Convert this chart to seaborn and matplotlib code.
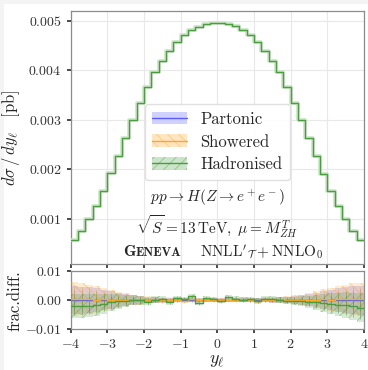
import numpy as np
import pandas as pd
import seaborn as sns
import matplotlib
matplotlib.use("Agg")
import matplotlib.pyplot as plt
import matplotlib.patheffects as pe
from matplotlib.patches import Patch, Rectangle
from matplotlib.lines import Line2D
from matplotlib.transforms import offset_copy

# ---------------- data ----------------
bin_edges = np.round(np.arange(-4.0, 4.0001, 0.2), 2)
xticks = [-4, -3, -2, -1, 0, 1, 2, 3, 4]
main_yticks = [0.001, 0.002, 0.003, 0.004, 0.005]
ratio_yticks = [-0.01, 0.0, 0.01]
ratio_yticklabels = [r"$-0.01$", r"$0.00$", r"$0.01$"]

partonic = [0.000562, 0.000758, 0.000987, 0.001249, 0.001559, 0.001916, 0.002266, 0.002636,
            0.002993, 0.003343, 0.003667, 0.003956, 0.004192, 0.004394, 0.004576, 0.004717,
            0.004811, 0.004886, 0.004933, 0.004946,
            0.004946, 0.004933, 0.004886, 0.004811, 0.004717, 0.004576, 0.004394, 0.004192,
            0.003956, 0.003667, 0.003343, 0.002993, 0.002636, 0.002266, 0.001913, 0.001559,
            0.001249, 0.000987, 0.000758, 0.000562]

# fractional differences w.r.t. partonic
frac_partonic = [0.0] * 40
frac_showered = [0.0004, 0.0003, 0.0003, 0.0002, 0.0003, 0.0002, 0.0001, 0.0002, 0.0001, 0.0000,
                 0.0002, 0.0001, -0.0001, 0.0002, 0.0001, -0.0002, 0.0003, 0.0001, 0.0002, -0.0001,
                 0.0001, 0.0002, -0.0001, 0.0002, 0.0001, -0.0002, 0.0001, 0.0000, 0.0001, 0.0002,
                 0.0001, 0.0000, 0.0001, 0.0002, 0.0003, 0.0002, 0.0004, 0.0003, 0.0004, 0.0003]
frac_hadronised = [-0.0020, -0.0020, -0.0019, -0.0017, -0.0012, -0.0008, -0.0004, -0.0002, 0.0001, -0.0001,
                   -0.0006, 0.0002, 0.0003, -0.0006, 0.0006, 0.0004, 0.0013, -0.0009, 0.0008, 0.0003,
                   -0.0004, 0.0012, 0.0005, 0.0002, 0.0004, -0.0003, 0.0005, 0.0003, 0.0001, -0.0002,
                   -0.0003, -0.0004, -0.0006, -0.0008, -0.0011, -0.0013, -0.0015, -0.0017, -0.0021, -0.0026]

unc_partonic = [0.0048, 0.0046, 0.0044, 0.0040, 0.0034, 0.0030, 0.0024, 0.0020, 0.0016, 0.0013,
                0.0011, 0.0010, 0.0009, 0.0008, 0.0008, 0.0007, 0.0007, 0.0006, 0.0006, 0.0006,
                0.0006, 0.0006, 0.0006, 0.0007, 0.0007, 0.0008, 0.0008, 0.0009, 0.0010, 0.0011,
                0.0013, 0.0016, 0.0020, 0.0025, 0.0030, 0.0035, 0.0040, 0.0044, 0.0047, 0.0050]
unc_showered = [0.0058, 0.0055, 0.0050, 0.0046, 0.0040, 0.0034, 0.0028, 0.0022, 0.0018, 0.0015,
                0.0012, 0.0011, 0.0010, 0.0009, 0.0009, 0.0008, 0.0008, 0.0007, 0.0007, 0.0007,
                0.0007, 0.0007, 0.0007, 0.0008, 0.0008, 0.0009, 0.0009, 0.0010, 0.0011, 0.0012,
                0.0015, 0.0018, 0.0022, 0.0028, 0.0034, 0.0040, 0.0046, 0.0050, 0.0054, 0.0057]
unc_hadronised = [0.0042, 0.0041, 0.0040, 0.0038, 0.0034, 0.0030, 0.0025, 0.0021, 0.0017, 0.0014,
                  0.0012, 0.0011, 0.0010, 0.0009, 0.0009, 0.0008, 0.0008, 0.0008, 0.0007, 0.0007,
                  0.0007, 0.0007, 0.0008, 0.0008, 0.0008, 0.0009, 0.0009, 0.0010, 0.0011, 0.0012,
                  0.0014, 0.0017, 0.0021, 0.0026, 0.0031, 0.0036, 0.0040, 0.0044, 0.0047, 0.0050]

series_names = ["Partonic", "Showered", "Hadronised"]

# ---------------- style ----------------
sns.set_theme(style="whitegrid")
plt.rcParams.update({
    "font.family": ["serif"],
    "font.serif": ["cmr10", "DejaVu Serif"],
    "mathtext.fontset": "cm",
    "axes.formatter.use_mathtext": True,
    "axes.unicode_minus": True,
    "axes.edgecolor": "#8c8c8c",
    "axes.linewidth": 0.9,
    "grid.color": "#e8e8e8",
    "grid.linewidth": 0.8,
    "xtick.color": "#333333",
    "ytick.color": "#333333",
    "xtick.major.size": 3,
    "ytick.major.size": 3,
    "xtick.bottom": True,
    "ytick.left": True,
    "xtick.labelsize": 10,
    "ytick.labelsize": 10,
    "hatch.linewidth": 0.7,
})

colors = {"Partonic": "#5a5aff", "Showered": "#ffa726", "Hadronised": "#4a9e40"}
hatches = {"Partonic": None, "Showered": "\\\\\\", "Hadronised": "///"}
band_alpha = {"Partonic": 0.25, "Showered": 0.22, "Hadronised": 0.22}

fig = plt.figure(figsize=(3.68, 3.70), dpi=100)
fig.patch.set_facecolor("#f4f4f4")
fig.patches.append(Rectangle((4 / 368, 0), 1, 1 - 4 / 370, transform=fig.transFigure,
                             facecolor="white", edgecolor="none", zorder=-10))

ax = fig.add_axes([70.7 / 368, 1 - 264 / 370, (364 - 70.7) / 368, (264 - 11.3) / 370])
rax = fig.add_axes([70.7 / 368, 1 - 329.3 / 370, (364 - 70.7) / 368, (329.3 - 271) / 370])

centers = 0.5 * (bin_edges[:-1] + bin_edges[1:])
part = np.array(partonic)
fracs = {"Partonic": np.array(frac_partonic), "Showered": np.array(frac_showered),
         "Hadronised": np.array(frac_hadronised)}
uncs = {"Partonic": np.array(unc_partonic), "Showered": np.array(unc_showered),
        "Hadronised": np.array(unc_hadronised)}

rows = []
for name in series_names:
    vals = part * (1 + fracs[name])
    ext = np.append(vals, vals[-1])
    for e, v, f in zip(bin_edges, ext, np.append(fracs[name], fracs[name][-1])):
        rows.append({"x": e, "y": v, "frac": f, "series": name})
df = pd.DataFrame(rows)

for i, name in enumerate(series_names):
    c = colors[name]
    sub = df[df.series == name]
    rgb = matplotlib.colors.to_rgb(c)
    # main panel
    lw = 1.0 if name == "Hadronised" else 0.8
    sns.lineplot(data=sub, x="x", y="y", ax=ax, color=c, lw=lw, drawstyle="steps-post",
                 estimator=None, sort=False, zorder=3 + i, legend=False)
    if name == "Hadronised":
        ax.lines[-1].set_path_effects([pe.Stroke(linewidth=2.6, foreground="#c9e4c5"), pe.Normal()])
    # ratio panel
    fu = np.append(uncs[name], uncs[name][-1])
    rax.fill_between(sub.x.values, sub.frac.values - fu, sub.frac.values + fu, step="post",
                     facecolor=rgb + (band_alpha[name],), edgecolor=rgb + (0.4,),
                     hatch=hatches[name], linewidth=0, zorder=2 + i)
    rax.errorbar(centers, fracs[name], yerr=uncs[name] * 0.75, fmt="none",
                 ecolor=rgb + (0.5,), elinewidth=0.7, zorder=3 + i)
    sns.lineplot(data=sub, x="x", y="frac", ax=rax, color=c, lw=1.0, drawstyle="steps-post",
                 estimator=None, sort=False, zorder=5 + i, legend=False)

# axes setup
for a in (ax, rax):
    a.set_xlim(-4, 4)
    a.set_xticks(xticks)
    a.grid(True, zorder=0)
    for s in a.spines.values():
        s.set_visible(True)
        s.set_color("#8c8c8c")

ax.set_ylim(0.000085, 0.00519)
ax.set_yticks(main_yticks)
ax.yaxis.set_major_formatter(matplotlib.ticker.FormatStrFormatter(r"$%.3f$"))
ax.tick_params(axis="x", labelbottom=False)
ax.set_xlabel("")
ax.set_ylabel(r"$d\sigma\,/\,dy_\ell\quad[\mathrm{pb}]$", fontsize=12)
ax.yaxis.set_label_coords(-0.165, 0.5)

rax.set_ylim(-0.01, 0.01)
rax.set_yticks(ratio_yticks)
rax.set_yticklabels(ratio_yticklabels)
rax.set_xticklabels([rf"${t}$" for t in xticks])
rax.set_xlabel(r"$y_\ell$", fontsize=13, labelpad=1)
rax.set_ylabel("frac.diff.", fontsize=12)
rax.yaxis.set_label_coords(-0.165, 0.5)

# legend
handles = []
for name in series_names:
    rgb = matplotlib.colors.to_rgb(colors[name])
    p = Patch(facecolor=rgb + (0.28,), edgecolor=rgb + (0.4,), hatch=hatches[name], linewidth=0)
    l = Line2D([], [], color=colors[name], lw=1.0)
    handles.append((p, l))
leg = ax.legend(handles, series_names, loc="center", bbox_to_anchor=(0.50, 0.483),
                fontsize=12, handlelength=2.1, handleheight=0.8, labelspacing=0.45,
                borderpad=0.45, handletextpad=0.8, frameon=True, framealpha=0.9,
                edgecolor="#dddddd", fancybox=True)
leg.set_zorder(10)

# annotations
ax.text(0.5, 0.261, r"$pp \to H(Z \to e^+e^-)$", transform=ax.transAxes,
        ha="center", va="center", fontsize=11, zorder=11)
ax.text(0.5, 0.146, r"$\sqrt{S} = 13\,\mathrm{TeV},\ \mu = M_{ZH}^T$", transform=ax.transAxes,
        ha="center", va="center", fontsize=11, zorder=11)

# "Geneva" in small caps followed by the accuracy label
fig.canvas.draw()
renderer = fig.canvas.get_renderer()
x0 = (123 - 70.7) / 293.3
y0 = 0.03
t1 = ax.text(x0, y0, "G", transform=ax.transAxes, ha="left", va="baseline",
             fontsize=11.5, family="cmb10", zorder=11)
w1 = t1.get_window_extent(renderer).width
t2 = ax.text(x0, y0, "ENEVA", transform=offset_copy(ax.transAxes, fig=fig, x=w1 + 0.5, units="dots"),
             ha="left", va="baseline", fontsize=9.2, family="cmb10", zorder=11)
ax.text((200 - 70.7) / 293.3, y0, r"$\mathrm{NNLL}'_{\mathcal{T}} + \mathrm{NNLO}_0$",
        transform=ax.transAxes, ha="left", va="baseline", fontsize=11, zorder=11)

fig.savefig("out.png", dpi=100, facecolor=fig.get_facecolor())
